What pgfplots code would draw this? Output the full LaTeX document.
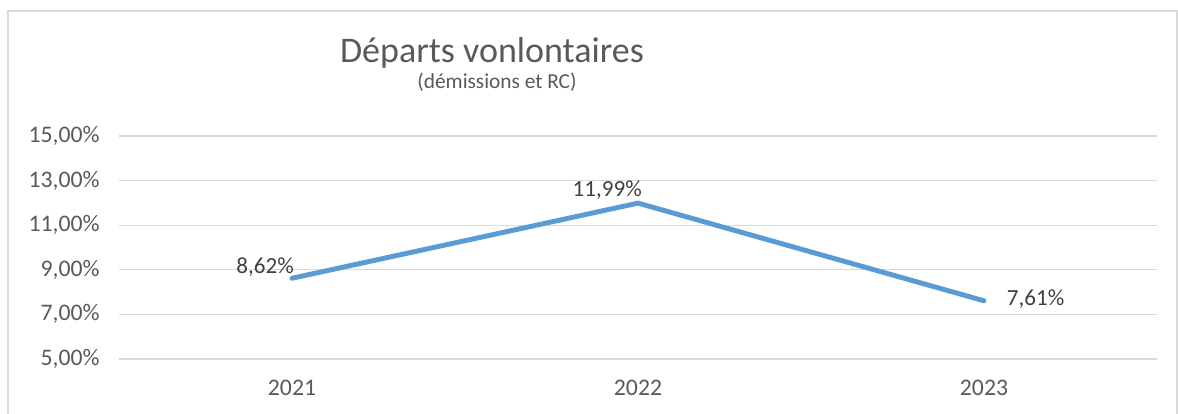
\documentclass[border=0pt]{standalone}
\usepackage{fontspec}
\setmainfont{Carlito}
\usepackage{pgfplots}
\pgfplotsset{compat=1.18}
\definecolor{lineblue}{HTML}{5B9BD5}
\definecolor{txt}{HTML}{595959}
\definecolor{lbl}{HTML}{404040}
\definecolor{gridc}{HTML}{D9D9D9}
\begin{document}
\begin{tikzpicture}
\path[use as bounding box] (-89.25pt,-41.25pt) rectangle (794.25pt,269.25pt);
\draw[gridc, line width=0.9pt] (-83.25pt,-50pt) -- (-83.25pt,261pt) -- (793.5pt,261pt) -- (793.5pt,-50pt);
\begin{axis}[
  at={(0pt,0pt)}, anchor=south west,
  scale only axis, width=778.5pt, height=167.25pt,
  xmin=-0.5, xmax=2.5, ymin=5, ymax=15,
  xtick={0,1,2}, xticklabels={2021,2022,2023},
  ytick={5,7,9,11,13,15},
  ymajorgrids, major grid style={gridc, line width=0.9pt},
  axis line style={draw=none},
  major tick length=0pt,
  /pgf/number format/assume math mode=true,
  tick label style={font=\fontsize{17.8}{21}\selectfont, text=txt},
  yticklabel={\pgfmathprintnumber[fixed,fixed zerofill,precision=2,use comma]{\tick}\%},
  yticklabel style={xshift=-11pt},
  xticklabel style={yshift=-12pt},
  clip=false,
]
\addplot[lineblue, line width=3.7pt, line cap=round, line join=round, mark=none]
  coordinates {(0,8.62) (1,11.99) (2,7.61)};
\addplot[draw=none, mark=none, point meta=y,
  nodes near coords={\pgfmathprintnumber[fixed,fixed zerofill,precision=2,use comma]{\pgfplotspointmeta}\%},
  nodes near coords style={anchor=base east, inner sep=0pt, xshift=1.5pt, yshift=3.75pt, text=lbl, font=\fontsize{17.3}{20}\selectfont}]
  coordinates {(0,8.62)};
\addplot[draw=none, mark=none, point meta=y,
  nodes near coords={\pgfmathprintnumber[fixed,fixed zerofill,precision=2,use comma]{\pgfplotspointmeta}\%},
  nodes near coords style={anchor=base east, inner sep=0pt, xshift=3pt, yshift=5pt, text=lbl, font=\fontsize{17.3}{20}\selectfont}]
  coordinates {(1,11.99)};
\addplot[draw=none, mark=none, point meta=y,
  nodes near coords={\pgfmathprintnumber[fixed,fixed zerofill,precision=2,use comma]{\pgfplotspointmeta}\%},
  nodes near coords style={anchor=base west, inner sep=0pt, xshift=17pt, yshift=-3.75pt, text=lbl, font=\fontsize{17.3}{20}\selectfont}]
  coordinates {(2,7.61)};
\end{axis}
\node[anchor=base, inner sep=0pt, font=\fontsize{27}{32}\selectfont, text=txt] at (279.75pt,222pt) {Départs vonlontaires};
\node[anchor=base, inner sep=0pt, font=\fontsize{16}{19}\selectfont, text=txt] at (283.5pt,202.5pt) {(démissions et RC)};
\end{tikzpicture}
\end{document}
